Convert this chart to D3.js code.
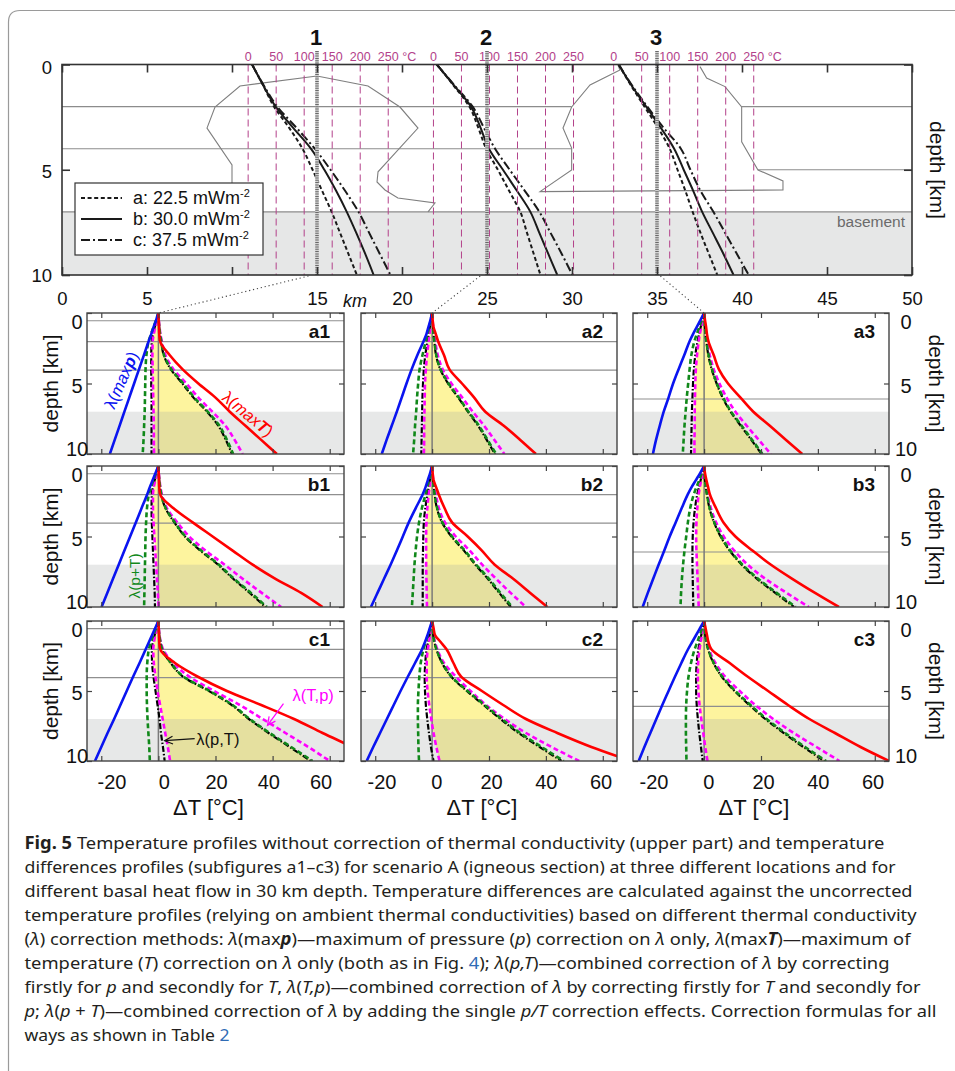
<!DOCTYPE html>
<html>
<head>
<meta charset="utf-8">
<script src="https://cdn.jsdelivr.net/npm/d3@7/dist/d3.min.js"></script>
<style>
html,body{margin:0;padding:0;background:#fff;}
svg{display:block;}
</style>
</head>
<body>
<svg id="fig" width="955" height="1071" xmlns="http://www.w3.org/2000/svg"></svg>
<script>
// ======================= DATA =======================
// upper panel: x axis (km) and depth axis
const kmTicks = [0,5,10,15,20,25,30,35,40,45,50];
const kmTickLabels = [0,5,15,20,25,30,35,40,45,50];
const depthTicks = [0,5,10];
const depthTickLabels = ["0","5","10"];
const locationNames = ["1","2","3"];
const locationKm = [15,25,35];
const tempTicks = [0,50,100,150,200,250];
const tempZeroKm = [10.95,21.85,32.45];   // where 0 °C sits for each location
const tempSpanKm = 8.24;                  // 250 °C spans this many km
const basementTop = 7.0;

// geological layer boundaries [depth, from km, to km]
const layerDepths = [2.0, 2.0, 4.0, 5.0];
const layerFromKm = [0, 39.98, 0, 40.94];
const layerToKm   = [29.98, 50, 29.98, 50];

// igneous bodies outlines [km, depth]
const igneousBody1 = [[10.0,7.0],[10.0,4.77],[8.53,3.02],[9.0,2.02],[10.47,1.02],[15.0,0.55],[18.0,1.02],[19.88,2.02],[20.94,3.02],[18.59,5.1],[18.53,5.58],[19.0,5.96],[19.76,6.34],[21.94,6.58],[21.53,7.0]];
const igneousBody2 = [[32.7,0.02],[32.82,0.26],[31.06,0.97],[29.98,2.02],[29.47,3.02],[29.98,3.97],[29.98,5.01],[28.12,6.04],[42.41,5.96],[42.41,5.53],[40.94,5.01],[39.98,3.67],[39.98,2.02],[39.0,1.05],[37.92,0.64],[37.53,0.1]];

// temperature profiles (°C) at depths 0..10 km
const profileDepth = [0,1,2,3,4,5,6,7,8,9,10];
const loc1_a = [7,27,46,73,97,115,132,149,164,179,194];
const loc1_b = [7,27,49,80,112,136,157,176,193,209,224];
const loc1_c = [7,28,52,86,119,147,173,197,216,235,254];
const loc2_a = [6,36,64,80,94,115,135,155,167,179,191];
const loc2_b = [6,37,67,84,99,124,149,173,189,205,221];
const loc2_c = [6,38,70,90,110,136,163,189,209,229,248];
const loc3_a = [9,31,55,79,100,114,128,141,155,170,185];
const loc3_b = [9,32,58,84,108,125,142,158,177,196,214];
const loc3_c = [9,33,60,89,120,137,155,178,199,220,241];
const heatFlowNames = ["a: 22.5 mWm","b: 30.0 mWm","c: 37.5 mWm"];

// lower panels: ΔT (°C) at depths
const dtDepth = [0,0.5,1,1.5,2,3,4,5,6,7,8,9,10];
const dtTicks = [-20,0,20,40,60];
const dtTickLabels = ["-20","0","20","40","60"];
const colLayerDepths = [[0.55,2.03,4.05],[2.03,4.05],[6.1]];

const a1_maxP = [0,-0.8,-1.7,-2.5,-3.4,-5.1,-6.8,-8.5,-10.2,-11.9,-13.6,-15.3,-17.0];
const a1_maxT = [0,0.1,0.2,0.3,0.6,4.0,8.5,14.0,20.0,25.0,30.5,36.0,41.5];
const a1_pT_L = [0,-0.6,-1.3,-1.9,-2.3,-2.5,-2.5,-2.5,-2.4,-2.4,-2.4,-2.4,-2.4];
const a1_pT_R = [0,0.1,0.3,0.6,1.0,1.9,4.4,8.4,12.3,17.0,21.0,23.6,25.8];
const a1_Tp_L = [0,-0.5,-1.1,-1.6,-2.0,-2.1,-2.0,-1.9,-1.8,-1.7,-1.6,-1.6,-1.5];
const a1_Tp_R = [0,0.15,0.4,0.7,1.2,2.5,5.3,9.8,14.0,18.9,23.5,26.7,29.5];
const a1_sum_L = [0,-0.8,-1.7,-2.6,-3.4,-4.2,-4.5,-4.6,-4.7,-4.8,-5.0,-5.2,-5.5];
const a1_sum_R = [0,0.1,0.3,0.6,1.0,2.0,4.6,8.7,12.6,17.3,21.4,24.0,26.2];

const b1_maxP = [0,-1.0,-2.0,-3.0,-3.9,-5.9,-7.9,-9.9,-11.9,-13.9,-15.9,-17.9,-19.9];
const b1_maxT = [0,0.1,0.2,0.3,0.6,5.3,12.0,19.0,26.0,33.0,41.0,50.0,57.5];
const b1_pT_L = [0,-0.6,-1.3,-1.9,-2.3,-2.4,-2.3,-2.1,-1.9,-1.7,-1.5,-1.3,-1.2];
const b1_pT_R = [0,0.1,0.3,0.6,1.0,2.5,5.6,9.3,14.7,20.9,26.2,32.0,37.5];
const b1_Tp_L = [0,-0.5,-1.1,-1.6,-1.9,-1.9,-1.7,-1.4,-1.1,-0.8,-0.5,-0.2,0.1];
const b1_Tp_R = [0,0.15,0.4,0.7,1.2,3.0,6.6,10.8,16.5,23.2,29.5,36.2,43.0];
const b1_sum_L = [0,-0.8,-1.7,-2.6,-3.3,-4.0,-4.3,-4.5,-4.6,-4.7,-4.8,-4.9,-5.0];
const b1_sum_R = [0,0.1,0.3,0.6,1.0,2.6,5.8,9.5,15.0,21.2,26.5,32.4,38.0];

const c1_maxP = [0,-1.1,-2.2,-3.3,-4.4,-6.6,-8.9,-11.1,-13.3,-15.5,-17.8,-20.0,-22.2];
const c1_maxT = [0,0.1,0.2,0.3,0.6,5.8,14.0,24.0,36.0,47.5,57.5,68.0,78.0];
const c1_pT_L = [0,-0.6,-1.3,-1.9,-2.3,-2.2,-1.7,-1.0,-0.3,0.4,0.9,1.6,2.2];
const c1_pT_R = [0,0.1,0.3,0.7,1.3,4.3,8.8,17.7,25.7,31.7,38.6,46.0,53.4];
const c1_Tp_L = [0,-0.5,-1.1,-1.5,-1.8,-1.6,-1.0,-0.3,0.6,1.5,2.4,3.3,4.1];
const c1_Tp_R = [0,0.15,0.4,0.8,1.6,5.2,11.0,19.5,28.5,36.5,44.5,52.5,60.0];
const c1_sum_L = [0,-0.8,-1.7,-2.6,-3.3,-3.9,-4.1,-4.1,-4.0,-3.8,-3.5,-3.2,-3.0];
const c1_sum_R = [0,0.1,0.3,0.7,1.3,4.4,9.0,18.0,26.0,32.0,39.0,46.5,54.0];

const a2_maxP = [0,-0.6,-1.3,-2.0,-3.0,-5.2,-7.2,-9.0,-10.7,-12.4,-14.2,-16.0,-17.7];
const a2_maxT = [0,0.2,0.5,1.3,2.1,4.2,6.1,10.5,14.8,18.7,25.2,31.0,36.5];
const a2_pT_L = [0,-0.4,-0.8,-1.2,-1.6,-2.4,-2.9,-3.2,-3.4,-3.5,-3.6,-3.7,-3.8];
const a2_pT_R = [0,0.1,0.3,0.5,0.8,1.4,2.9,5.6,9.2,12.6,16.2,19.2,22.1];
const a2_Tp_L = [0,-0.3,-0.6,-0.9,-1.2,-1.8,-2.2,-2.5,-2.6,-2.7,-2.8,-2.8,-2.9];
const a2_Tp_R = [0,0.15,0.4,0.7,1.1,2.0,3.7,6.8,10.6,14.3,18.3,21.9,25.4];
const a2_sum_L = [0,-0.5,-1.0,-1.6,-2.2,-3.4,-4.4,-4.9,-5.3,-5.6,-6.0,-6.3,-6.7];
const a2_sum_R = [0,0.1,0.3,0.5,0.8,1.5,3.0,5.8,9.4,12.8,16.5,19.5,22.5];

const b2_maxP = [0,-0.7,-1.5,-2.3,-3.3,-5.8,-8.2,-10.3,-12.4,-14.6,-16.9,-19.2,-21.5];
const b2_maxT = [0,0.2,0.5,1.4,2.3,4.4,7.0,12.5,17.5,22.0,28.5,34.5,40.5];
const b2_pT_L = [0,-0.4,-0.8,-1.2,-1.6,-2.4,-2.9,-3.1,-3.2,-3.3,-3.3,-3.3,-3.3];
const b2_pT_R = [0,0.1,0.3,0.6,0.9,1.7,3.5,6.8,11.2,15.2,19.6,23.6,27.7];
const b2_Tp_L = [0,-0.3,-0.6,-0.9,-1.2,-1.7,-2.0,-2.1,-2.1,-2.1,-2.0,-1.9,-1.8];
const b2_Tp_R = [0,0.15,0.4,0.8,1.3,2.4,4.5,8.3,13.2,17.6,22.5,27.6,33.0];
const b2_sum_L = [0,-0.5,-1.0,-1.7,-2.3,-3.6,-4.6,-5.3,-5.8,-6.2,-6.5,-6.8,-7.1];
const b2_sum_R = [0,0.1,0.3,0.6,0.9,1.8,3.6,7.0,11.5,15.5,20.0,24.0,28.2];

const c2_maxP = [0,-0.8,-1.6,-2.5,-3.5,-6.0,-8.6,-11.1,-13.5,-15.9,-18.3,-20.7,-23.0];
const c2_maxT = [0,0.5,1.0,3.0,5.0,7.5,10.3,17.5,25.0,33.0,44.0,56.0,70.0];
const c2_pT_L = [0,-0.4,-0.9,-1.4,-1.9,-2.4,-2.6,-2.5,-2.2,-1.7,-1.1,-0.4,0.5];
const c2_pT_R = [0,0.1,0.4,0.8,1.5,3.5,6.8,12.2,18.1,24.0,30.4,37.8,45.5];
const c2_Tp_L = [0,-0.3,-0.7,-1.1,-1.5,-1.9,-1.9,-1.6,-1.0,-0.3,0.5,1.5,2.6];
const c2_Tp_R = [0,0.2,0.5,1.0,1.8,4.2,8.5,13.5,19.0,25.5,33.0,42.0,51.7];
const c2_sum_L = [0,-0.6,-1.4,-2.3,-3.0,-4.0,-4.5,-4.8,-5.0,-5.0,-4.9,-4.8,-4.6];
const c2_sum_R = [0,0.1,0.4,0.8,1.5,3.6,7.0,12.5,18.5,24.5,31.0,38.5,46.3];

const a3_maxP = [0,-1.3,-2.6,-3.9,-5.1,-7.0,-9.0,-10.9,-12.5,-14.2,-15.6,-16.9,-18.0];
const a3_maxT = [0,0.3,0.7,1.0,1.5,3.4,5.2,8.4,12.8,17.3,23.1,28.8,34.5];
const a3_pT_L = [0,-0.6,-1.2,-1.8,-2.3,-3.1,-3.6,-3.9,-4.1,-4.3,-4.4,-4.5,-4.6];
const a3_pT_R = [0,0.1,0.3,0.5,0.8,1.5,2.7,4.4,6.5,9.3,12.9,16.6,20.2];
const a3_Tp_L = [0,-0.5,-1.0,-1.5,-1.9,-2.5,-2.9,-3.1,-3.2,-3.3,-3.3,-3.4,-3.4];
const a3_Tp_R = [0,0.15,0.4,0.7,1.0,2.0,3.4,5.4,7.9,11.0,15.0,19.2,23.5];
const a3_sum_L = [0,-0.8,-1.7,-2.6,-3.4,-4.5,-5.1,-5.6,-6.1,-6.5,-6.9,-7.2,-7.5];
const a3_sum_R = [0,0.1,0.3,0.5,0.8,1.6,2.8,4.5,6.7,9.5,13.2,16.9,20.5];

const b3_maxP = [0,-1.4,-2.9,-4.4,-5.7,-7.9,-10.0,-12.1,-14.0,-16.0,-17.9,-19.8,-21.6];
const b3_maxT = [0,0.3,0.8,1.4,2.0,4.2,6.8,11.0,17.0,23.5,31.0,39.0,47.4];
const b3_pT_L = [0,-0.6,-1.2,-1.8,-2.4,-3.2,-3.7,-4.0,-4.1,-4.1,-4.0,-3.9,-3.8];
const b3_pT_R = [0,0.1,0.3,0.6,1.0,1.9,3.5,5.8,9.0,13.2,18.6,25.0,31.6];
const b3_Tp_L = [0,-0.5,-1.0,-1.5,-1.9,-2.4,-2.7,-2.8,-2.7,-2.5,-2.3,-2.1,-1.9];
const b3_Tp_R = [0,0.15,0.4,0.8,1.2,2.4,4.2,6.9,10.6,15.3,21.5,29.0,36.8];
const b3_sum_L = [0,-0.8,-1.7,-2.7,-3.6,-4.9,-5.7,-6.3,-6.9,-7.4,-7.8,-8.1,-8.3];
const b3_sum_R = [0,0.1,0.3,0.6,1.0,2.0,3.6,6.0,9.2,13.5,19.0,25.5,32.2];

const c3_maxP = [0,-1.4,-2.8,-4.2,-5.6,-8.0,-10.3,-12.5,-14.7,-16.8,-18.9,-21.0,-23.0];
const c3_maxT = [0,0.5,1.0,1.5,2.5,9.0,15.5,22.5,29.5,37.0,46.0,55.0,65.0];
const c3_pT_L = [0,-0.5,-1.0,-1.5,-2.0,-2.6,-2.8,-2.8,-2.6,-2.2,-1.7,-1.1,-0.5];
const c3_pT_R = [0,0.1,0.4,0.8,1.4,3.3,6.3,10.7,15.9,21.5,28.0,34.9,42.2];
const c3_Tp_L = [0,-0.4,-0.8,-1.2,-1.6,-2.1,-2.2,-2.0,-1.6,-1.0,-0.3,0.4,1.2];
const c3_Tp_R = [0,0.2,0.5,1.0,1.7,4.0,7.5,12.5,18.0,24.3,31.5,39.5,47.6];
const c3_sum_L = [0,-0.7,-1.5,-2.4,-3.3,-4.6,-5.5,-6.0,-6.3,-6.4,-6.4,-6.3,-6.2];
const c3_sum_R = [0,0.1,0.4,0.8,1.4,3.4,6.5,11.0,16.3,22.0,28.5,35.5,42.9];

// caption text segments: n normal, i italic, b bold, bi bold italic, l link
const captionLines = [
 [["b","Fig. 5"],["n"," Temperature profiles without correction of thermal conductivity (upper part) and temperature"]],
 [["n","differences profiles (subfigures a1–c3) for scenario A (igneous section) at three different locations and for"]],
 [["n","different basal heat flow in 30 km depth. Temperature differences are calculated against the uncorrected"]],
 [["n","temperature profiles (relying on ambient thermal conductivities) based on different thermal conductivity"]],
 [["n","("],["i","λ"],["n",") correction methods: "],["i","λ"],["n","(max"],["bi","p"],["n",")—maximum of pressure ("],["i","p"],["n",") correction on "],["i","λ"],["n"," only, "],["i","λ"],["n","(max"],["bi","T"],["n",")—maximum of"]],
 [["n","temperature ("],["i","T"],["n",") correction on "],["i","λ"],["n"," only (both as in Fig. "],["l","4"],["n","); "],["i","λ"],["n","("],["i","p,T"],["n",")—combined correction of "],["i","λ"],["n"," by correcting"]],
 [["n","firstly for "],["i","p"],["n"," and secondly for "],["i","T"],["n",", "],["i","λ"],["n","("],["i","T,p"],["n",")—combined correction of "],["i","λ"],["n"," by correcting firstly for "],["i","T"],["n"," and secondly for"]],
 [["i","p"],["n","; "],["i","λ"],["n","("],["i","p"],["n"," + "],["i","T"],["n",")—combined correction of "],["i","λ"],["n"," by adding the single "],["i","p/T"],["n"," correction effects. Correction formulas for all"]],
 [["n","ways as shown in Table "],["l","2"]]
];

// ======================= DRAWING =======================
const svg = d3.select("#fig");
const F = "'Liberation Sans', Arial, Helvetica, sans-serif";
const CAPF = "'Noto Sans', 'Open Sans', sans-serif";
const PINK = "#b3418a";

// outer border
svg.append("path").attr("d","M8.5,1071 V22 Q8.5,10.5 20,10.5 H955")
  .attr("fill","none").attr("stroke","#9a9a9a").attr("stroke-width",1.2);

// ---------- upper panel ----------
const xKm = d3.scaleLinear().domain([0,50]).range([62,912]);
const yTop = d3.scaleLinear().domain([0,10]).range([64.5,275]);
const yTopLabel = d3.scaleLinear().domain([0,10]).range([67,275]);
const gT = svg.append("g");
const defs = svg.append("defs");
defs.append("clipPath").attr("id","clipTop").append("rect")
  .attr("x",xKm(0)).attr("y",yTop(0)).attr("width",xKm(50)-xKm(0)).attr("height",yTop(10)-yTop(0));
const gTi = gT.append("g").attr("clip-path","url(#clipTop)");

gTi.append("rect").attr("x",xKm(0)).attr("y",yTop(basementTop))
  .attr("width",xKm(50)-xKm(0)).attr("height",yTop(10)-yTop(basementTop)).attr("fill","#e6e7e7");
gTi.append("line").attr("x1",xKm(0)).attr("x2",xKm(50)).attr("y1",yTop(basementTop)).attr("y2",yTop(basementTop))
  .attr("stroke","#8c8c8c").attr("stroke-width",1.1);
layerDepths.forEach((d,i)=>{
  gTi.append("line").attr("x1",xKm(layerFromKm[i])).attr("x2",xKm(layerToKm[i]))
    .attr("y1",yTop(d)).attr("y2",yTop(d)).attr("stroke","#8c8c8c").attr("stroke-width",1.1);
});
const polyLine = d3.line().x(p=>xKm(p[0])).y(p=>yTop(p[1]));
[igneousBody1, igneousBody2].forEach(b=>{
  gTi.append("path").attr("d",polyLine(b)).attr("fill","none").attr("stroke","#7f7f7f").attr("stroke-width",1.1);
});
gT.append("text").attr("x",905).attr("y",227).attr("text-anchor","end")
  .attr("font-family",F).attr("font-size",15.5).attr("fill","#6b6b6b").text("basement");

// temperature scales, pink dashed lines, labels
const profiles = [[loc1_a,loc1_b,loc1_c],[loc2_a,loc2_b,loc2_c],[loc3_a,loc3_b,loc3_c]];
const profStyles = [
  {dash:"4,2.6", w:2},
  {dash:null, w:2},
  {dash:"9,3,2,3", w:2}
];
locationKm.forEach((km,i)=>{
  const tx = d3.scaleLinear().domain([0,250]).range([xKm(tempZeroKm[i]), xKm(tempZeroKm[i]+tempSpanKm)]);
  tempTicks.forEach(t=>{
    gT.append("line").attr("x1",tx(t)).attr("x2",tx(t)).attr("y1",yTop(0)).attr("y2",yTop(10))
      .attr("stroke",PINK).attr("stroke-width",1).attr("stroke-dasharray","7,4");
    gT.append("text").attr("x",tx(t)).attr("y",61).attr("text-anchor","middle")
      .attr("font-family",F).attr("font-size",12.5).attr("fill",PINK).text(t);
  });
  if (i !== 1) {
    gT.append("text").attr("x",tx(250)+14).attr("y",61).attr("font-family",F)
      .attr("font-size",12.5).attr("fill",PINK).text("°C");
  }
  // location marker
  gT.append("line").attr("x1",xKm(km)).attr("x2",xKm(km)).attr("y1",51).attr("y2",yTop(10))
    .attr("stroke","#d2d2d2").attr("stroke-width",3.5);
  gT.append("line").attr("x1",xKm(km)).attr("x2",xKm(km)).attr("y1",51).attr("y2",yTop(10))
    .attr("stroke","#6a6a6a").attr("stroke-width",3.5).attr("stroke-dasharray","1,1.3");
  gT.append("text").attr("x",xKm(km)-1).attr("y",45).attr("text-anchor","middle")
    .attr("font-family",F).attr("font-weight","bold").attr("font-size",22).attr("fill","#111").text(locationNames[i]);
  // profiles
  const ln = d3.line().x(v=>tx(v)).y((v,k)=>yTop(profileDepth[k])).curve(d3.curveMonotoneY);
  profiles[i].forEach((arr,k)=>{
    gTi.append("path").attr("d",ln(arr)).attr("fill","none").attr("stroke","#1a1a1a")
      .attr("stroke-width",profStyles[k].w).attr("stroke-dasharray",profStyles[k].dash);
  });
});

// legend
const lg = gT.append("g");
lg.append("rect").attr("x",75).attr("y",183).attr("width",188).attr("height",72)
  .attr("fill","#fff").attr("stroke","#333").attr("stroke-width",1.2);
heatFlowNames.forEach((nm,k)=>{
  const yy = [198,219,240][k];
  lg.append("line").attr("x1",81).attr("x2",122).attr("y1",yy).attr("y2",yy)
    .attr("stroke","#1a1a1a").attr("stroke-width",2).attr("stroke-dasharray",profStyles[k].dash);
  const t = lg.append("text").attr("x",133).attr("y",yy+6).attr("font-family",F).attr("font-size",18).attr("fill","#111");
  t.append("tspan").text(nm);
  t.append("tspan").attr("dy",-7).attr("font-size",11).text("-2");
});

// frame + axes
gT.append("rect").attr("x",xKm(0)).attr("y",yTop(0)).attr("width",xKm(50)-xKm(0)).attr("height",yTop(10)-yTop(0))
  .attr("fill","none").attr("stroke","#333").attr("stroke-width",1.6);
function styleAxis(sel, col, w){
  sel.select(".domain").remove();
  sel.selectAll(".tick line").attr("stroke",col).attr("stroke-width",w);
  sel.selectAll(".tick text").attr("font-family",F).attr("fill","#111");
}
gT.append("g").attr("transform",`translate(0,${yTop(0)})`)
  .call(d3.axisTop(xKm).tickValues(kmTicks).tickSize(-8).tickFormat(""))
  .call(s=>styleAxis(s,"#333",1.6));
gT.append("g").attr("transform",`translate(0,${yTop(10)})`)
  .call(d3.axisBottom(xKm).tickValues(kmTicks).tickSize(-8).tickPadding(17)
    .tickFormat(v=> kmTickLabels.includes(v) ? String(v) : ""))
  .call(s=>styleAxis(s,"#333",1.6))
  .call(s=>s.selectAll(".tick text").attr("font-size",18.5));
gT.append("g").attr("transform",`translate(${xKm(0)},0)`)
  .call(d3.axisLeft(yTop).tickValues(depthTicks).tickSize(-8).tickFormat(""))
  .call(s=>styleAxis(s,"#333",1.6));
gT.append("g").attr("transform",`translate(${xKm(50)},0)`)
  .call(d3.axisRight(yTop).tickValues(depthTicks).tickSize(-8).tickFormat(""))
  .call(s=>styleAxis(s,"#333",1.6));
depthTicks.forEach((d,k)=>{
  gT.append("text").attr("x",52).attr("y",yTopLabel(d)+6.5).attr("text-anchor","end")
    .attr("font-family",F).attr("font-size",18.5).attr("fill","#111").text(depthTickLabels[k]);
});
gT.append("text").attr("x",355).attr("y",307).attr("text-anchor","middle").attr("font-family",F)
  .attr("font-style","italic").attr("font-size",18).attr("fill","#111").text("km");
gT.append("text").attr("transform",`translate(930,170) rotate(90)`).attr("text-anchor","middle")
  .attr("font-family",F).attr("font-size",21).attr("fill","#111").text("depth [km]");

// ---------- lower panels ----------
const colX = [[87,344],[361,617],[633,889]];
const rowY = [[313,454],[466,607],[621,761]];
const dtDomain = [-25,65];
const panels = [
 {id:"a1",r:0,c:0,maxP:a1_maxP,maxT:a1_maxT,pT:[a1_pT_L,a1_pT_R],Tp:[a1_Tp_L,a1_Tp_R],sum:[a1_sum_L,a1_sum_R]},
 {id:"b1",r:1,c:0,maxP:b1_maxP,maxT:b1_maxT,pT:[b1_pT_L,b1_pT_R],Tp:[b1_Tp_L,b1_Tp_R],sum:[b1_sum_L,b1_sum_R]},
 {id:"c1",r:2,c:0,maxP:c1_maxP,maxT:c1_maxT,pT:[c1_pT_L,c1_pT_R],Tp:[c1_Tp_L,c1_Tp_R],sum:[c1_sum_L,c1_sum_R]},
 {id:"a2",r:0,c:1,maxP:a2_maxP,maxT:a2_maxT,pT:[a2_pT_L,a2_pT_R],Tp:[a2_Tp_L,a2_Tp_R],sum:[a2_sum_L,a2_sum_R]},
 {id:"b2",r:1,c:1,maxP:b2_maxP,maxT:b2_maxT,pT:[b2_pT_L,b2_pT_R],Tp:[b2_Tp_L,b2_Tp_R],sum:[b2_sum_L,b2_sum_R]},
 {id:"c2",r:2,c:1,maxP:c2_maxP,maxT:c2_maxT,pT:[c2_pT_L,c2_pT_R],Tp:[c2_Tp_L,c2_Tp_R],sum:[c2_sum_L,c2_sum_R]},
 {id:"a3",r:0,c:2,maxP:a3_maxP,maxT:a3_maxT,pT:[a3_pT_L,a3_pT_R],Tp:[a3_Tp_L,a3_Tp_R],sum:[a3_sum_L,a3_sum_R]},
 {id:"b3",r:1,c:2,maxP:b3_maxP,maxT:b3_maxT,pT:[b3_pT_L,b3_pT_R],Tp:[b3_Tp_L,b3_Tp_R],sum:[b3_sum_L,b3_sum_R]},
 {id:"c3",r:2,c:2,maxP:c3_maxP,maxT:c3_maxT,pT:[c3_pT_L,c3_pT_R],Tp:[c3_Tp_L,c3_Tp_R],sum:[c3_sum_L,c3_sum_R]}
];
const scalesById = {};

panels.forEach(p=>{
  const [x0,x1] = colX[p.c], [y0,y1] = rowY[p.r];
  const x = d3.scaleLinear().domain(dtDomain).range([x0,x1]);
  const y = d3.scaleLinear().domain([0,10]).range([y0,y1]);
  scalesById[p.id] = {x,y};
  const g = svg.append("g");
  defs.append("clipPath").attr("id","clip-"+p.id).append("rect")
    .attr("x",x0).attr("y",y0).attr("width",x1-x0).attr("height",y1-y0);
  const gi = g.append("g").attr("clip-path",`url(#clip-${p.id})`);
  // yellow band between left and right branches
  const band = d3.area().curve(d3.curveMonotoneY)
    .y((v,k)=>y(dtDepth[k])).x0((v,k)=>x(p.Tp[0][k])).x1((v,k)=>x(p.sum[1][k]));
  gi.append("path").attr("d",band(dtDepth)).attr("fill","#fdf49e");
  // basement shading
  gi.append("rect").attr("x",x0).attr("y",y(basementTop)).attr("width",x1-x0).attr("height",y(10)-y(basementTop))
    .attr("fill","#9fa3a3").attr("opacity",0.25);
  // layer lines
  colLayerDepths[p.c].forEach(d=>{
    gi.append("line").attr("x1",x0).attr("x2",x1).attr("y1",y(d)).attr("y2",y(d))
      .attr("stroke","#8f8f8f").attr("stroke-width",1.2);
  });
  // zero line
  gi.append("line").attr("x1",x(0)).attr("x2",x(0)).attr("y1",y(0)).attr("y2",y(10))
    .attr("stroke","#7a7a7a").attr("stroke-width",1.5);
  const ln = d3.line().curve(d3.curveMonotoneY).x(v=>x(v)).y((v,k)=>y(dtDepth[k]));
  const draw = (arr,col,w,dash)=> gi.append("path").attr("d",ln(arr)).attr("fill","none")
      .attr("stroke",col).attr("stroke-width",w).attr("stroke-dasharray",dash).attr("stroke-linejoin","round");
  p.pT.forEach(a=>draw(a,"#000",2.2,"6,2,1.5,2"));
  p.Tp.forEach(a=>draw(a,"#ff00ff",2.6,"5,3"));
  p.sum.forEach(a=>draw(a,"#11881a",2.6,"5,3"));
  draw(p.maxP,"#0a14f0",2.6,null);
  draw(p.maxT,"#ff0000",2.6,null);
  // frame and ticks
  g.append("rect").attr("x",x0).attr("y",y0).attr("width",x1-x0).attr("height",y1-y0)
    .attr("fill","none").attr("stroke","#444").attr("stroke-width",1.4);
  g.append("g").attr("transform",`translate(0,${y0})`)
    .call(d3.axisTop(x).tickValues(dtTicks).tickSize(-5).tickFormat("")).call(s=>styleAxis(s,"#444",1.2));
  g.append("g").attr("transform",`translate(0,${y1})`)
    .call(d3.axisBottom(x).tickValues(dtTicks).tickSize(-5).tickFormat("")).call(s=>styleAxis(s,"#444",1.2));
  g.append("g").attr("transform",`translate(${x0},0)`)
    .call(d3.axisLeft(y).tickValues(depthTicks).tickSize(-5).tickFormat("")).call(s=>styleAxis(s,"#444",1.2));
  g.append("g").attr("transform",`translate(${x1},0)`)
    .call(d3.axisRight(y).tickValues(depthTicks).tickSize(-5).tickFormat("")).call(s=>styleAxis(s,"#444",1.2));
  // panel id
  g.append("text").attr("x",x1-14).attr("y",y0+25).attr("text-anchor","end").attr("font-family",F)
    .attr("font-weight","bold").attr("font-size",19).attr("fill","#111").text(p.id);
  // depth labels
  const yl = d3.scaleLinear().domain([0,10]).range([y0+9,y1-5]);
  if (p.c === 0 || p.c === 2) {
    const lx = p.c === 0 ? 77 : 906;
    depthTicks.forEach((d,k)=>{
      g.append("text").attr("x",lx).attr("y",yl(d)+7).attr("text-anchor","middle").attr("font-family",F)
        .attr("font-size",20).attr("fill","#111").text(depthTickLabels[k]);
    });
    const dx = p.c === 0 ? 58 : 929;
    g.append("text").attr("transform",`translate(${dx},${(y0+y1)/2}) rotate(${p.c===0?-90:90})`)
      .attr("text-anchor","middle").attr("font-family",F).attr("font-size",21).attr("fill","#111").text("depth [km]");
  }
  if (p.r === 2) {
    const xl = p.c === 0 ? d3.scaleLinear().domain([-20,60]).range([x0+25,x0+234])
                         : d3.scaleLinear().domain([-20,60]).range([x0+21,x0+240]);
    dtTicks.forEach((v,k)=>{
      g.append("text").attr("x",xl(v)).attr("y",y1+28).attr("text-anchor","middle").attr("font-family",F)
        .attr("font-size",20).attr("fill","#111").text(dtTickLabels[k]);
    });
    g.append("text").attr("x",(x0+x1)/2-7).attr("y",y1+54).attr("text-anchor","middle").attr("font-family",F)
      .attr("font-size",22).attr("fill","#111").text("ΔT [°C]");
  }
});

// connectors from location markers to panels
const connectTopKm = [14.5,24.6,35.2];
["a1","a2","a3"].forEach((id,i)=>{
  const s = scalesById[id];
  svg.append("line").attr("x1",xKm(connectTopKm[i])).attr("y1",yTop(10)+1)
    .attr("x2",s.x(0)).attr("y2",s.y(0))
    .attr("stroke","#444").attr("stroke-width",1.1).attr("stroke-dasharray","1.2,2.8");
});

// curve annotations
function rotLabel(id, v, d, ang, col, parts, size){
  const s = scalesById[id];
  const t = svg.append("text").attr("transform",`translate(${s.x(v)},${s.y(d)}) rotate(${ang})`)
    .attr("text-anchor","middle").attr("dominant-baseline","central").attr("font-family",F)
    .attr("font-size",size).attr("fill",col);
  parts.forEach(([str,st])=>{
    const ts = t.append("tspan").text(str);
    if (st.includes("i")) ts.attr("font-style","italic");
    if (st.includes("b")) ts.attr("font-weight","bold");
  });
}
rotLabel("a1",-13.1,4.75,-66,"#0a14f0",[["λ(",""],["max","i"],["p","bi"],[")",""]],16.5);
rotLabel("a1",31.4,7.15,39.5,"#ff0000",[["λ(",""],["max","i"],["T","bi"],[")",""]],16.5);
rotLabel("b1",-8.6,7.8,-90,"#11881a",[["λ(p+T)",""]],15.5);
function arrow(id, v1,d1,v2,d2,col){
  const s = scalesById[id];
  const X1=s.x(v1),Y1=s.y(d1),X2=s.x(v2),Y2=s.y(d2);
  const a = Math.atan2(Y2-Y1,X2-X1), L=9, h=0.45;
  svg.append("line").attr("x1",X1).attr("y1",Y1).attr("x2",X2).attr("y2",Y2).attr("stroke",col).attr("stroke-width",1.2);
  svg.append("path").attr("d",`M${X2-L*Math.cos(a-h)},${Y2-L*Math.sin(a-h)} L${X2},${Y2} L${X2-L*Math.cos(a+h)},${Y2-L*Math.sin(a+h)}`)
    .attr("fill","none").attr("stroke",col).attr("stroke-width",1.2);
}
{
  const s = scalesById["c1"];
  svg.append("text").attr("x",s.x(47)).attr("y",s.y(5.7)).attr("font-family",F).attr("font-size",16.5)
    .attr("fill","#ff00ff").text("λ(T,p)");
  arrow("c1",43.8,5.9,38.2,7.45,"#ff00ff");
  svg.append("text").attr("x",s.x(13.3)).attr("y",s.y(8.85)).attr("font-family",F).attr("font-size",16.5)
    .attr("fill","#111").text("λ(p,T)");
  arrow("c1",12.7,8.4,2.2,8.55,"#111");
}

// ---------- caption ----------
const capWidths = [860,871,888,892,886,865,896,912,205];
const cap = svg.append("g");
captionLines.forEach((segs,i)=>{
  const t = cap.append("text").attr("x",24.5).attr("y",849+24*i).attr("font-family",CAPF)
    .attr("font-size",17).attr("fill","#231f20").style("white-space","pre")
    .attr("textLength",capWidths[i]).attr("lengthAdjust","spacingAndGlyphs");
  segs.forEach(([st,str])=>{
    const ts = t.append("tspan").text(str);
    if (st==="i") ts.attr("font-style","italic");
    if (st==="b") ts.attr("font-weight","bold");
    if (st==="bi") ts.attr("font-weight","bold").attr("font-style","italic");
    if (st==="l") ts.attr("fill","#2f6cb5");
  });
});
</script>
</body>
</html>
